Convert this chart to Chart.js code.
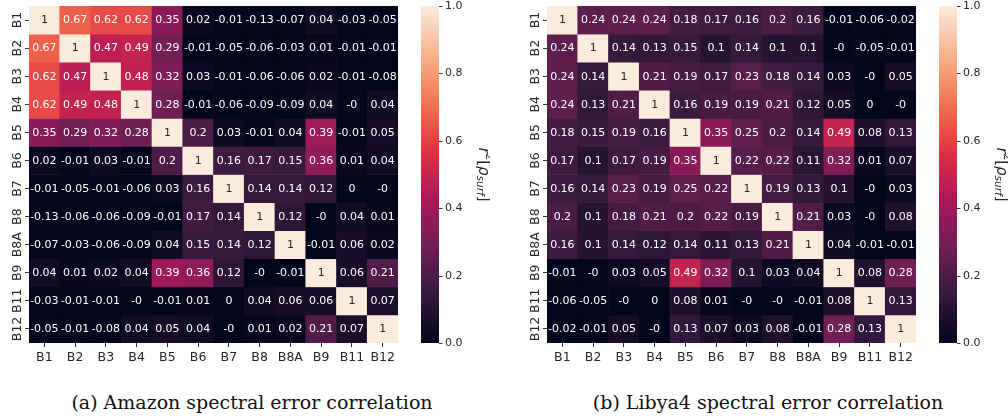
<!DOCTYPE html>
<html>
<head>
<meta charset="utf-8">
<script src="https://cdn.jsdelivr.net/npm/chart.js@4.4.1/dist/chart.umd.min.js"></script>
<style>
  html, body { margin:0; padding:0; background:#ffffff; width:1008px; height:420px; overflow:hidden; }
  .panel { position:absolute; top:0; }
  .cap { position:absolute; top:391px; width:504px; text-align:center; font-family:"DejaVu Serif", serif; font-size:19px; color:#111; white-space:nowrap; }
</style>
</head>
<body>
<div class="panel" style="left:0px;"><canvas id="cA" width="490" height="370"></canvas></div>
<div class="panel" style="left:518px;"><canvas id="cB" width="490" height="370"></canvas></div>
<div class="cap" style="left:0px;">(a) Amazon spectral error correlation</div>
<div class="cap" style="left:516px;">(b) Libya4 spectral error correlation</div>
<script>
// ---------- data ----------
const bands = ['B1','B2','B3','B4','B5','B6','B7','B8','B8A','B9','B11','B12'];
const colorbarTicks = [0.0, 0.2, 0.4, 0.6, 0.8, 1.0];

// Amazon rows
const amazonB1  = [1, 0.67, 0.62, 0.62, 0.35, 0.02, -0.01, -0.13, -0.07, 0.04, -0.03, -0.05];
const amazonB2  = [0.67, 1, 0.47, 0.49, 0.29, -0.01, -0.05, -0.06, -0.03, 0.01, -0.01, -0.01];
const amazonB3  = [0.62, 0.47, 1, 0.48, 0.32, 0.03, -0.01, -0.06, -0.06, 0.02, -0.01, -0.08];
const amazonB4  = [0.62, 0.49, 0.48, 1, 0.28, -0.01, -0.06, -0.09, -0.09, 0.04, -0, 0.04];
const amazonB5  = [0.35, 0.29, 0.32, 0.28, 1, 0.2, 0.03, -0.01, 0.04, 0.39, -0.01, 0.05];
const amazonB6  = [0.02, -0.01, 0.03, -0.01, 0.2, 1, 0.16, 0.17, 0.15, 0.36, 0.01, 0.04];
const amazonB7  = [-0.01, -0.05, -0.01, -0.06, 0.03, 0.16, 1, 0.14, 0.14, 0.12, 0, -0];
const amazonB8  = [-0.13, -0.06, -0.06, -0.09, -0.01, 0.17, 0.14, 1, 0.12, -0, 0.04, 0.01];
const amazonB8A = [-0.07, -0.03, -0.06, -0.09, 0.04, 0.15, 0.14, 0.12, 1, -0.01, 0.06, 0.02];
const amazonB9  = [0.04, 0.01, 0.02, 0.04, 0.39, 0.36, 0.12, -0, -0.01, 1, 0.06, 0.21];
const amazonB11 = [-0.03, -0.01, -0.01, -0, -0.01, 0.01, 0, 0.04, 0.06, 0.06, 1, 0.07];
const amazonB12 = [-0.05, -0.01, -0.08, 0.04, 0.05, 0.04, -0, 0.01, 0.02, 0.21, 0.07, 1];

// Libya4 rows
const libyaB1  = [1, 0.24, 0.24, 0.24, 0.18, 0.17, 0.16, 0.2, 0.16, -0.01, -0.06, -0.02];
const libyaB2  = [0.24, 1, 0.14, 0.13, 0.15, 0.1, 0.14, 0.1, 0.1, -0, -0.05, -0.01];
const libyaB3  = [0.24, 0.14, 1, 0.21, 0.19, 0.17, 0.23, 0.18, 0.14, 0.03, -0, 0.05];
const libyaB4  = [0.24, 0.13, 0.21, 1, 0.16, 0.19, 0.19, 0.21, 0.12, 0.05, 0, -0];
const libyaB5  = [0.18, 0.15, 0.19, 0.16, 1, 0.35, 0.25, 0.2, 0.14, 0.49, 0.08, 0.13];
const libyaB6  = [0.17, 0.1, 0.17, 0.19, 0.35, 1, 0.22, 0.22, 0.11, 0.32, 0.01, 0.07];
const libyaB7  = [0.16, 0.14, 0.23, 0.19, 0.25, 0.22, 1, 0.19, 0.13, 0.1, -0, 0.03];
const libyaB8  = [0.2, 0.1, 0.18, 0.21, 0.2, 0.22, 0.19, 1, 0.21, 0.03, -0, 0.08];
const libyaB8A = [0.16, 0.1, 0.14, 0.12, 0.14, 0.11, 0.13, 0.21, 1, 0.04, -0.01, -0.01];
const libyaB9  = [-0.01, -0, 0.03, 0.05, 0.49, 0.32, 0.1, 0.03, 0.04, 1, 0.08, 0.28];
const libyaB11 = [-0.06, -0.05, -0, 0, 0.08, 0.01, -0, -0, -0.01, 0.08, 1, 0.13];
const libyaB12 = [-0.02, -0.01, 0.05, -0, 0.13, 0.07, 0.03, 0.08, -0.01, 0.28, 0.13, 1];

const amazonMatrix = [amazonB1, amazonB2, amazonB3, amazonB4, amazonB5, amazonB6, amazonB7, amazonB8, amazonB8A, amazonB9, amazonB11, amazonB12];
const libyaMatrix  = [libyaB1, libyaB2, libyaB3, libyaB4, libyaB5, libyaB6, libyaB7, libyaB8, libyaB8A, libyaB9, libyaB11, libyaB12];

// ---------- colormap (seaborn "rocket") ----------
const rocketStops = [
  [0, '#03051a'], [1/7, '#35193e'], [2/7, '#701f57'], [3/7, '#ad1759'],
  [4/7, '#e13342'], [5/7, '#f37651'], [6/7, '#f6b48f'], [1, '#faebdd']
];
function hexToRgb(h){ return [parseInt(h.slice(1,3),16), parseInt(h.slice(3,5),16), parseInt(h.slice(5,7),16)]; }
function rocketRgb(v){
  v = Math.max(0, Math.min(1, v));
  for (let i = 0; i < rocketStops.length - 1; i++) {
    const [p0, c0] = rocketStops[i], [p1, c1] = rocketStops[i+1];
    if (v <= p1) {
      const t = (v - p0) / (p1 - p0);
      const a = hexToRgb(c0), b = hexToRgb(c1);
      return a.map((x, k) => Math.round(x + (b[k] - x) * t));
    }
  }
  return hexToRgb(rocketStops[rocketStops.length-1][1]);
}
function rocket(v){ const c = rocketRgb(v); return `rgb(${c[0]},${c[1]},${c[2]})`; }
function luminance(rgb){
  const l = rgb.map(x => { x /= 255; return x <= 0.03928 ? x/12.92 : Math.pow((x+0.055)/1.055, 2.4); });
  return 0.2126*l[0] + 0.7152*l[1] + 0.0722*l[2];
}
function fmt(v){ return Object.is(v, -0) ? '-0' : String(v); }

// ---------- plugin: annotations, y labels, colorbar ----------
const heatPlugin = {
  id: 'heat',
  afterDatasetsDraw(chart, args, opts) {
    const { ctx, chartArea, scales: { x, y } } = chart;
    const m = opts.matrix;
    ctx.save();
    // cell annotations
    ctx.font = '11px "DejaVu Sans"';
    ctx.textAlign = 'center';
    ctx.textBaseline = 'middle';
    m.forEach((row, r) => row.forEach((v, c) => {
      ctx.fillStyle = luminance(rocketRgb(v)) > 0.408 ? '#262626' : '#ffffff';
      ctx.fillText(fmt(v), x.getPixelForValue(c), y.getPixelForValue(r + 0.5) + 0.5);
    }));
    // rotated y tick labels
    ctx.font = '12.5px "DejaVu Sans"';
    ctx.fillStyle = '#262626';
    bands.forEach((b, r) => {
      ctx.save();
      ctx.translate(chartArea.left - 11.5, y.getPixelForValue(r + 0.5));
      ctx.rotate(-Math.PI / 2);
      ctx.fillText(b, 0, 0);
      ctx.restore();
    });
    // colorbar
    const cbL = chartArea.right + 23, cbW = 18, top = chartArea.top, bot = chartArea.bottom;
    const g = ctx.createLinearGradient(0, bot, 0, top);
    rocketStops.forEach(([p, c]) => g.addColorStop(p, c));
    ctx.fillStyle = g;
    ctx.fillRect(cbL, top, cbW, bot - top);
    ctx.strokeStyle = '#333';
    ctx.lineWidth = 1;
    ctx.font = '11px "DejaVu Sans"';
    ctx.textAlign = 'left';
    ctx.fillStyle = '#262626';
    colorbarTicks.forEach(v => {
      const yy = Math.round(bot - v * (bot - top)) + 0.5;
      ctx.beginPath(); ctx.moveTo(cbL + cbW, yy); ctx.lineTo(cbL + cbW + 3.5, yy); ctx.stroke();
      ctx.fillText(v.toFixed(1), cbL + cbW + 6, yy);
    });
    // colorbar label  r^2[rho_surf]
    const parts = [
      { t: 'r', f: 'italic 15px "DejaVu Sans"', dy: 0 },
      { t: '2', f: '10.5px "DejaVu Sans"', dy: -6 },
      { t: '[', f: '15px "DejaVu Sans"', dy: 0 },
      { t: 'ρ', f: 'italic 15px "DejaVu Sans"', dy: 0 },
      { t: 'surf', f: 'italic 10.5px "DejaVu Sans"', dy: 3.5 },
      { t: ']', f: '15px "DejaVu Sans"', dy: 0 }
    ];
    let total = 0;
    parts.forEach(p => { ctx.font = p.f; p.w = ctx.measureText(p.t).width; total += p.w; });
    ctx.save();
    ctx.translate(cbL + cbW + 44, (top + bot) / 2);
    ctx.rotate(Math.PI / 2);
    let px = -total / 2;
    parts.forEach(p => { ctx.font = p.f; ctx.fillText(p.t, px, p.dy); px += p.w; });
    ctx.restore();
    ctx.restore();
  }
};

function makeHeatmap(id, matrix) {
  const datasets = matrix.map((row, r) => ({
    data: row.map(() => [r, r + 1]),
    backgroundColor: row.map(v => rocket(v)),
    borderWidth: 0,
    borderSkipped: false,
    barPercentage: 1,
    categoryPercentage: 1,
    grouped: false
  }));
  const tickGrid = { display: true, drawOnChartArea: false, drawTicks: true, tickLength: 4, color: '#333', lineWidth: 1, offset: false };
  return new Chart(document.getElementById(id), {
    type: 'bar',
    data: { labels: bands, datasets },
    options: {
      responsive: false,
      animation: false,
      events: [],
      layout: { padding: { top: 6, right: 92, left: 0, bottom: 0 } },
      plugins: { legend: { display: false }, tooltip: { enabled: false }, heat: { matrix } },
      scales: {
        x: {
          type: 'category',
          grid: tickGrid,
          border: { display: false },
          ticks: { font: { family: 'DejaVu Sans', size: 12.5 }, color: '#262626', padding: 3, maxRotation: 0, autoSkip: false },
          afterFit(s) { s.height = 27; }
        },
        y: {
          type: 'linear', min: 0, max: bands.length, reverse: true,
          grid: tickGrid,
          border: { display: false },
          ticks: { display: false },
          afterBuildTicks(s) { s.ticks = bands.map((_, i) => ({ value: i + 0.5 })); },
          afterFit(s) { s.width = 29; }
        }
      }
    },
    plugins: [heatPlugin]
  });
}

makeHeatmap('cA', amazonMatrix);
makeHeatmap('cB', libyaMatrix);
</script>
</body>
</html>
